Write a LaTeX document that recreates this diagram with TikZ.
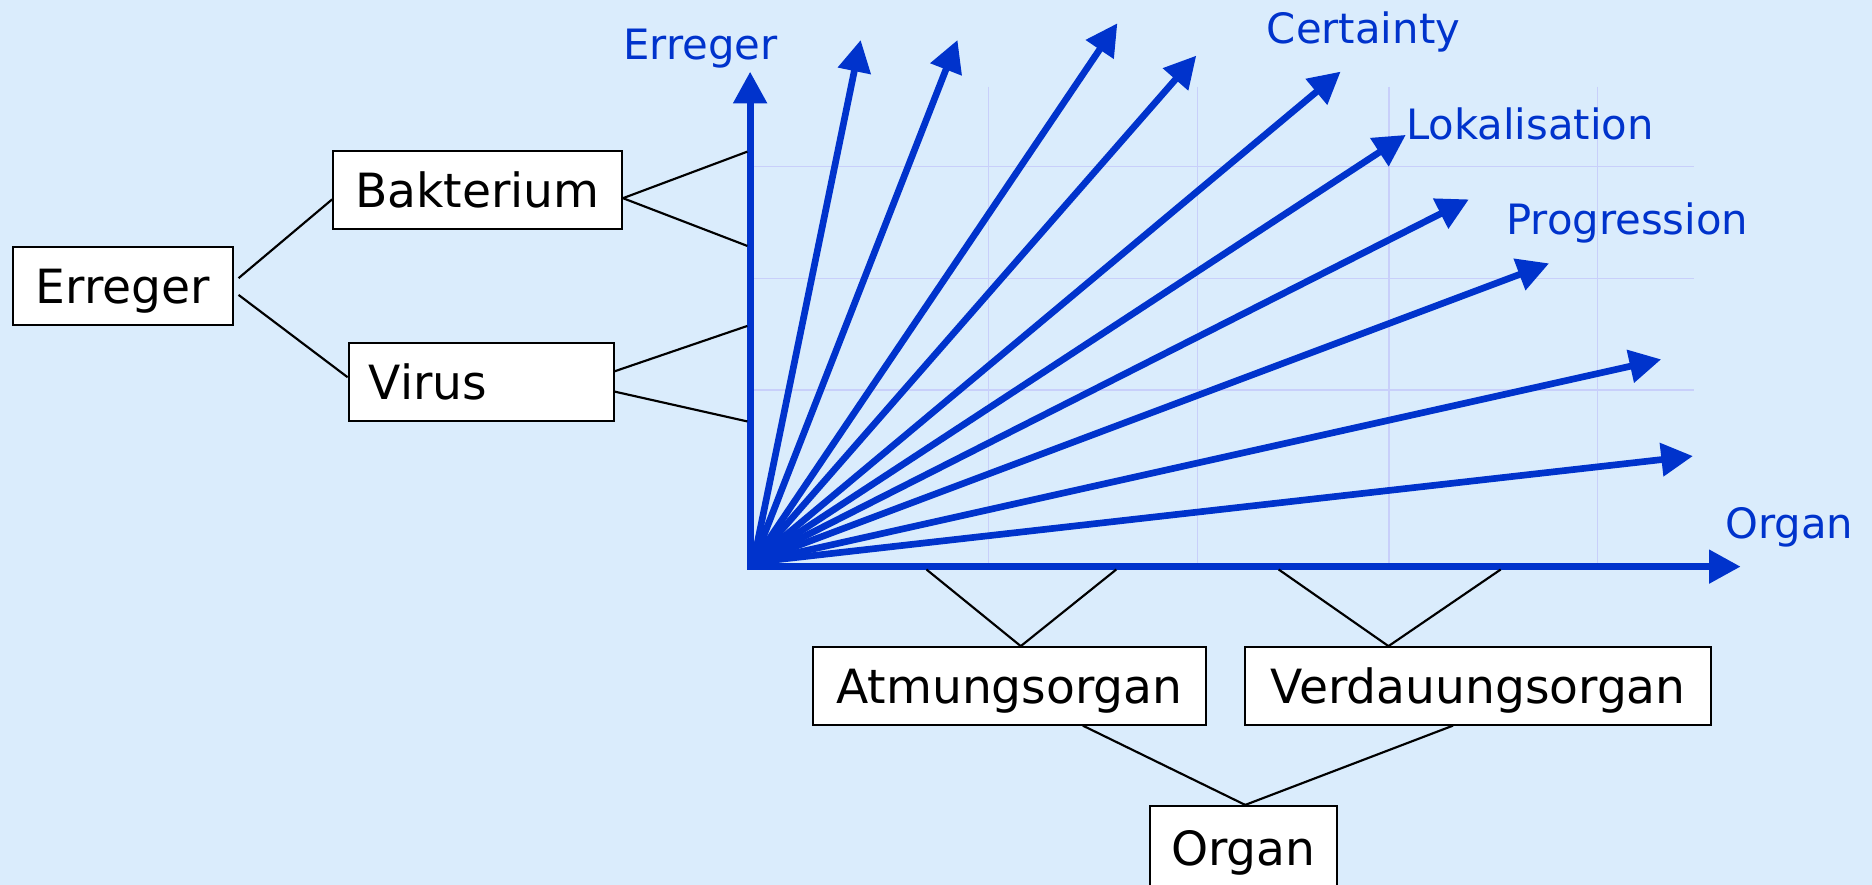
\documentclass[tikz,border=0pt]{standalone}
\usepackage{fontspec}
\setmainfont{DejaVu Sans}
\usetikzlibrary{arrows.meta}
\definecolor{bg}{RGB}{218,236,252}
\definecolor{vec}{RGB}{0,51,204}
\definecolor{gridc}{RGB}{200,207,250}
\begin{document}
\begin{tikzpicture}[x=1pt,y=-1pt,
  box/.style={draw=black, line width=1.6pt, fill=white, minimum height=65pt,
    inner sep=0pt, text height=29pt, text depth=0pt,
    font=\fontsize{39.5}{47}\selectfont},
  conn/.style={draw=black, line width=1.8pt},
  gridline/.style={draw=gridc, line width=1.3pt},
  axis/.style={draw=vec, line width=6pt, line join=miter,
    {Triangle[length=26.5pt,width=27pt]}-{Triangle[length=26.5pt,width=27pt]}},
  vector/.style={draw=vec, line width=5.6pt, -{Triangle[length=26.5pt,width=27pt]}},
  axlabel/.style={text=vec, inner sep=0pt, anchor=base west,
    font=\fontsize{35}{42}\selectfont}
]
% background
\fill[bg] (0,0) rectangle (1568,741);
\useasboundingbox (0,0) rectangle (1568,741);

% faint grid behind the vectors
\foreach \gx in {828,1003,1163.5,1338}
  \draw[gridline] (\gx,72.5) -- (\gx,474.6);
\foreach \gy in {139.6,233.1,326.7}
  \draw[gridline] (628,\gy) -- (1419,\gy);

% axes
\coordinate (O) at (628.3,474.6);
\coordinate (Ytip) at (628.3,60);
\coordinate (Xtip) at (1458,474.6);
\draw[axis] (Ytip) |- (Xtip);

% vectors
\coordinate (S) at (631,471);
\coordinate (t1) at (720.9,33.5);
\coordinate (t2) at (802,33.5);
\coordinate (t3) at (935.9,19.5);
\coordinate (t4) at (1002,46.6);
\coordinate (t5) at (1122.9,60);
\coordinate (t6) at (1177.5,113);
\coordinate (t7) at (1230.3,167);
\coordinate (t8) at (1297.5,220.6);
\coordinate (t9) at (1391.4,301);
\coordinate (t10) at (1418,382);
\foreach \t in {t1,t2,t3,t4,t5,t6,t7,t8,t9,t10}
  \draw[vector] (S) -- (\t);

% axis and vector labels
\node[axlabel] (lE) at (522,50) {Erreger};
\node[axlabel] (lC) at (1061,36.3) {Certainty};
\node[axlabel] (lL) at (1177.5,116.7) {Lokalisation};
\node[axlabel] (lP) at (1261.5,196.8) {Progression};
\node[axlabel] (lO) at (1445,451) {Organ};

% hierarchy boxes
\node[box, minimum width=184pt] (E) at (103,239.5) {Erreger};
\node[box, minimum width=242pt] (B) at (400,159) {Bakterium};
\node[box, minimum width=222pt, text width=188pt, align=left] (V) at (403,320) {Virus};
\node[box, minimum width=329pt] (A) at (845.5,574.5) {Atmungsorgan};
\node[box, minimum width=390pt] (D) at (1238,574.5) {Verdauungsorgan};
\node[box, minimum width=157pt, minimum height=71pt] (G) at (1041.5,710.5) {Organ};

% attachment points on the axes
\coordinate (y1) at (626,127);
\coordinate (y2) at (626,206);
\coordinate (y3) at (626,273);
\coordinate (y4) at (626,353);
\coordinate (x1) at (776,477);
\coordinate (x2) at (935,477);
\coordinate (x3) at (1071,477);
\coordinate (x4) at (1257,477);

% connectors
\draw[conn] ([shift={(4,-6.5)}]E.east) -- ([shift={(0,8)}]B.west);
\draw[conn] ([shift={(4,7.5)}]E.east) -- ([shift={(0,-4)}]V.west);
\draw[conn] ([shift={(0,7)}]B.east) -- (y1);
\draw[conn] ([shift={(0,7)}]B.east) -- (y2);
\draw[conn] ([shift={(0,-9)}]V.east) -- (y3);
\draw[conn] ([shift={(0,8)}]V.east) -- (y4);
\draw[conn] (x1) -- ([shift={(9.5,0)}]A.north);
\draw[conn] (x2) -- ([shift={(9.5,0)}]A.north);
\draw[conn] (x3) -- ([shift={(-75,0)}]D.north);
\draw[conn] (x4) -- ([shift={(-75,0)}]D.north);
\draw[conn] ([shift={(61.5,0)}]A.south) -- ([shift={(1.5,0)}]G.north);
\draw[conn] ([shift={(-21,0)}]D.south) -- ([shift={(1.5,0)}]G.north);
\end{tikzpicture}
\end{document}
